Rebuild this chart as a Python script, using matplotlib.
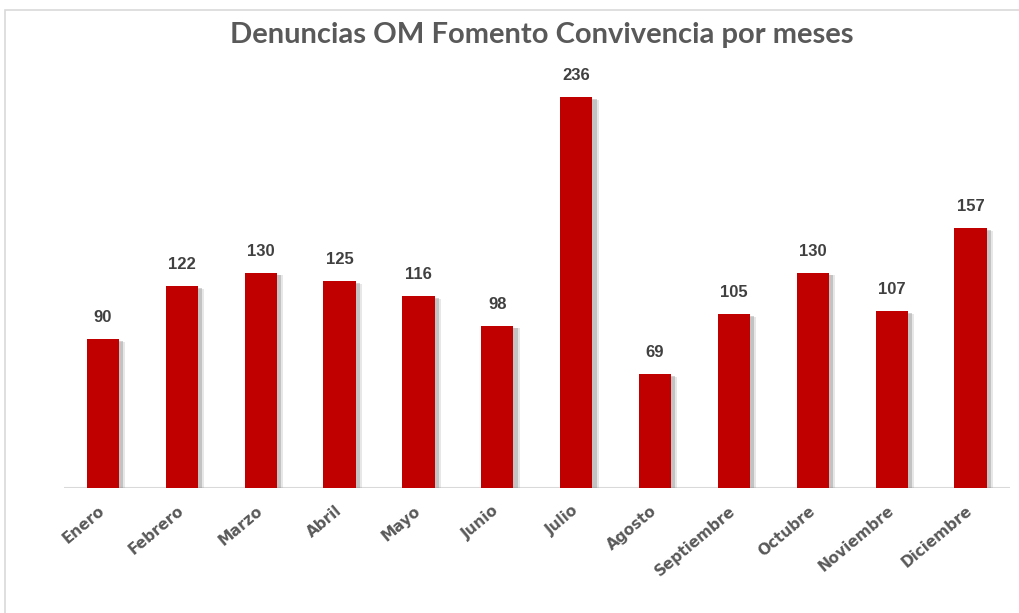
import matplotlib
matplotlib.use("Agg")
import matplotlib.pyplot as plt
import matplotlib.patheffects as pe
from matplotlib.patches import Rectangle

months = ["Enero", "Febrero", "Marzo", "Abril", "Mayo", "Junio", "Julio",
          "Agosto", "Septiembre", "Octubre", "Noviembre", "Diciembre"]
values = [90, 122, 130, 125, 116, 98, 236, 69, 105, 130, 107, 157]
title = "Denuncias OM Fomento Convivencia por meses"

W, H = 1019, 613
fig = plt.figure(figsize=(W / 100, H / 100), dpi=100)
fig.patch.set_facecolor("white")

# outer frame
fig.patches.append(Rectangle((5 / W, -0.05), 1.2, 1 - 10 / H + 0.05,
                             transform=fig.transFigure, fill=False,
                             edgecolor="#D9D9D9", linewidth=1.2))

ax = fig.add_axes([63.5 / W, (H - 488) / H, (1010 - 63.5) / W, 414 / H])
x = list(range(len(months)))
bars = ax.bar(x, values, width=0.41, color="#C00000", zorder=3)
for b in bars:
    b.set_path_effects([
        pe.SimplePatchShadow(offset=(4.5, -2), shadow_rgbFace="#A0A0A0", alpha=0.25),
        pe.SimplePatchShadow(offset=(3, -1.5), shadow_rgbFace="#808080", alpha=0.35),
        pe.Normal()])

ax.set_xlim(-0.5, len(months) - 0.5)
ax.set_ylim(0, 250)
for s in ax.spines.values():
    s.set_visible(False)
ax.axhline(0, color="#D9D9D9", linewidth=1.5, zorder=2)
ax.set_yticks([])
ax.set_xticks(x)
ax.set_xticklabels(months, rotation=40, ha="right", va="center",
                   rotation_mode="anchor", fontsize=11, fontweight="bold",
                   color="#595959", family="DejaVu Sans")
ax.tick_params(axis="x", length=0, pad=15)

for xi, v in zip(x, values):
    ax.annotate(str(v), (xi, v), xytext=(0, 10), textcoords="offset points",
                ha="center", va="bottom", fontsize=12, fontweight="bold",
                color="#404040", family=["Liberation Sans Narrow", "Liberation Sans"])

fig.text(542 / W, 1 - 35 / H, title, ha="center", va="center",
         fontsize=21, fontweight="bold", color="#595959", family="Lato")

fig.savefig("out.png", dpi=100)
